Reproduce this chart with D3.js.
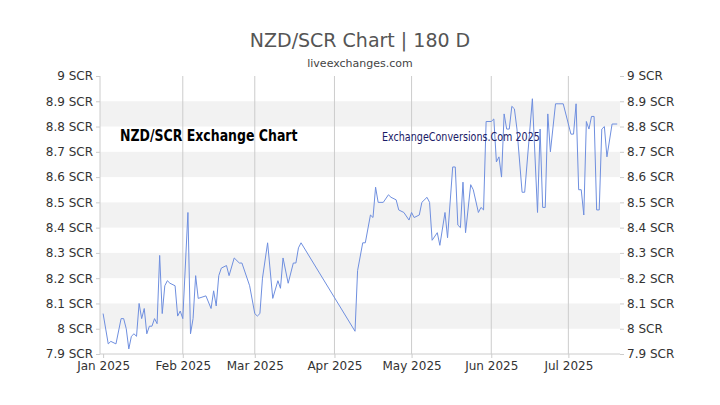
<!DOCTYPE html>
<html><head><meta charset="utf-8">
<script src="https://cdn.jsdelivr.net/npm/d3@7"></script>
<style>body{margin:0;background:#fff}</style>
</head><body>
<svg id="chart" width="720" height="405"></svg>
<script>
// days since 1 Jan 2025
var days = [0,2,3,5,7,8,9,10,11,12,13,14,15,16,17,18,19,20,21,22,23,24,25,26,28,29,30,31,33,34,35,36,37,40,42,43,44,45,46,48,49,51,53,54,57,59,60,61,62,64,66,68,69,70,72,74,75,76,77,
  98,99,101,102,104,105,106,107,109,111,112,114,115,117,119,120,121,123,124,126,127,128,130,131,133,134,136,137,138,139,140,141,143,144,146,147,148,149,151,152,153,154,155,156,157,158,159,160,161,163,164,167,169,170,171,172,173,174,176,177,179,182,183,184,185,186,187,188,189,190,191,192,193,194,195,196,198,200];
var rates = [8.06,7.94,7.95,7.94,8.04,8.04,8.00,7.92,7.97,7.98,7.97,8.10,8.04,8.08,7.98,8.01,8.01,8.04,8.02,8.29,8.06,8.17,8.19,8.18,8.17,8.05,8.07,8.04,8.46,7.98,8.04,8.21,8.12,8.13,8.08,8.15,8.09,8.21,8.24,8.25,8.21,8.28,8.26,8.26,8.17,8.06,8.05,8.06,8.20,8.34,8.12,8.19,8.16,8.28,8.18,8.26,8.26,8.32,8.34,
  7.99,8.23,8.34,8.34,8.45,8.44,8.56,8.50,8.50,8.53,8.52,8.51,8.47,8.46,8.43,8.46,8.44,8.45,8.50,8.52,8.50,8.35,8.38,8.33,8.46,8.36,8.64,8.64,8.41,8.40,8.58,8.38,8.57,8.55,8.46,8.48,8.47,8.82,8.82,8.83,8.66,8.68,8.60,8.85,8.79,8.79,8.88,8.87,8.79,8.54,8.54,8.91,8.46,8.79,8.48,8.48,8.85,8.70,8.89,8.89,8.89,8.77,8.77,8.89,8.55,8.55,8.45,8.82,8.79,8.84,8.84,8.47,8.47,8.79,8.80,8.68,8.81,8.81];
var yTicks = [7.9,8,8.1,8.2,8.3,8.4,8.5,8.6,8.7,8.8,8.9,9];
var monthLabels = ['Jan 2025','Feb 2025','Mar 2025','Apr 2025','May 2025','Jun 2025','Jul 2025'];

var svg = d3.select('#chart'),
    m = { left: 100, right: 620, top: 76, bottom: 354 },
    start = new Date(2025, 0, 1),
    dates = days.map(function(d) { return d3.timeDay.offset(start, d); }),
    months = monthLabels.map(function(t, i) { return new Date(2025, i, 1); });

var x = d3.scaleTime()
    .domain([d3.timeHour.offset(start, -29), d3.timeHour.offset(start, 201 * 24 + 2)])
    .range([m.left, m.right]);
var y = d3.scaleLinear().domain([7.9, 9]).range([m.bottom, m.top]);

// alternating bands
svg.selectAll('.band').data(yTicks.filter(function(t, i) { return i % 2 === 1 && t < 9; }))
  .enter().append('rect')
    .attr('x', m.left).attr('width', m.right - m.left)
    .attr('y', function(d) { return y(d + 0.1); })
    .attr('height', function(d) { return y(d) - y(d + 0.1); })
    .attr('fill', '#f2f2f2');

// month gridlines
svg.selectAll('.vgrid').data(months.slice(1)).enter().append('line')
    .attr('x1', function(d) { return x(d); }).attr('x2', function(d) { return x(d); })
    .attr('y1', m.top).attr('y2', m.bottom)
    .attr('stroke', '#ccc');

svg.append('line').attr('x1', m.left).attr('x2', m.right).attr('y1', m.bottom).attr('y2', m.bottom).attr('stroke', '#ccc');
svg.append('line').attr('x1', m.left).attr('x2', m.left).attr('y1', m.top).attr('y2', m.bottom).attr('stroke', '#ccc');

var fmt = function(d) { return d3.format('.1~f')(d) + ' SCR'; };
var yl = d3.axisLeft(y).tickValues(yTicks).tickFormat(fmt).tickSize(4);
var yr = d3.axisRight(y).tickValues(yTicks).tickFormat(fmt).tickSize(4);
svg.append('g').attr('transform', 'translate(' + m.left + ',0)').call(yl);
svg.append('g').attr('transform', 'translate(' + m.right + ',0)').call(yr);
var xa = d3.axisBottom(x).tickValues(months).tickFormat(function(d, i) { return monthLabels[i]; }).tickSize(4);
svg.append('g').attr('transform', 'translate(0,' + m.bottom + ')').call(xa);
svg.selectAll('.domain').remove();
svg.selectAll('.tick line').attr('stroke', '#ccc');
svg.selectAll('.tick text').attr('font-family', 'DejaVu Sans').attr('font-size', 12).attr('fill', '#333');

svg.append('path').datum(dates)
    .attr('fill', 'none').attr('stroke', '#6f8fdf').attr('stroke-width', 1)
    .attr('d', d3.line().x(function(d) { return x(d); }).y(function(d, i) { return y(rates[i]); }));

svg.append('text').attr('x', 360).attr('y', 47).attr('text-anchor', 'middle')
    .attr('font-family', 'DejaVu Sans').attr('font-size', 19).attr('fill', '#555')
    .text('NZD/SCR Chart | 180 D');
svg.append('text').attr('x', 360).attr('y', 67).attr('text-anchor', 'middle')
    .attr('font-family', 'DejaVu Sans').attr('font-size', 11).attr('fill', '#444')
    .text('liveexchanges.com');
svg.append('text').attr('x', 120).attr('y', 141)
    .attr('font-family', 'DejaVu Sans Condensed, DejaVu Sans').attr('font-weight', 'bold')
    .attr('font-size', 16).attr('fill', '#000').attr('transform', 'translate(120,0) scale(0.87,1) translate(-120,0)')
    .text('NZD/SCR Exchange Chart');
svg.append('text').attr('x', 382).attr('y', 141)
    .attr('font-family', 'DejaVu Sans Condensed, DejaVu Sans')
    .attr('font-size', 13).attr('fill', '#1a1a66').attr('transform', 'translate(382,0) scale(0.82,1) translate(-382,0)')
    .text('ExchangeConversions.Com 2025');
</script>
</body></html>
